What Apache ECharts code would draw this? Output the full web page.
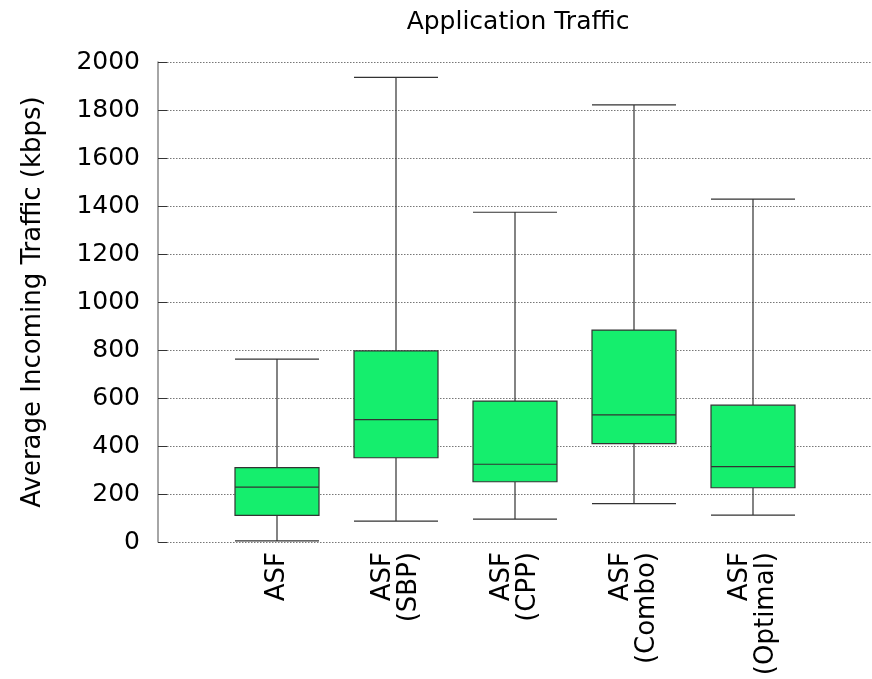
<!DOCTYPE html>
<html>
<head>
<meta charset="utf-8">
<script src="https://cdn.jsdelivr.net/npm/echarts@6/dist/echarts.min.js"></script>
<style>
  html, body { margin: 0; padding: 0; background: #fff; }
  #chart { width: 872px; height: 679px; }
</style>
</head>
<body>
<div id="chart"></div>
<script>
// Application traffic per scheme (kbps): whisker ends, quartiles and median
const categories = ['ASF', 'ASF\n(SBP)', 'ASF\n(CPP)', 'ASF\n(Combo)', 'ASF\n(Optimal)'];
const whiskerLow  = [5,   87,   95,   160,  112];
const quartile1   = [111, 351,  251,  410,  226];
const median      = [229, 510,  324,  530,  314];
const quartile3   = [310, 796,  587,  883,  570];
const whiskerHigh = [762, 1936, 1374, 1821, 1429];
const yTicks = { min: 0, max: 2000, step: 200 };

// Empty slots at both ends give the padding either side of the boxes
const axisCategories = [''].concat(categories, ['']);
const boxData = categories.map((c, i) => [
  i + 1, whiskerLow[i], quartile1[i], median[i], quartile3[i], whiskerHigh[i]
]);

const font = 'DejaVu Sans';
const fs = 25;
const chart = echarts.init(document.getElementById('chart'), null, { renderer: 'canvas' });
chart.setOption({
  backgroundColor: '#ffffff',
  animation: false,
  title: {
    text: 'Application Traffic',
    left: 513,
    top: 5,
    textAlign: 'center',
    textStyle: { fontFamily: font, fontSize: fs, fontWeight: 'normal', color: '#000' }
  },
  grid: { left: 158, top: 62, width: 720, height: 480, containLabel: false },
  xAxis: {
    type: 'category',
    data: axisCategories,
    boundaryGap: false,
    axisLine: { show: false },
    axisTick: { show: false },
    splitLine: { show: false },
    axisLabel: {
      rotate: 90,
      margin: 10,
      interval: 0,
      fontFamily: font,
      fontSize: 26,
      color: '#000',
      lineHeight: 26,
      align: 'right'
    }
  },
  yAxis: {
    type: 'value',
    min: yTicks.min,
    max: yTicks.max,
    interval: yTicks.step,
    name: 'Average Incoming Traffic (kbps)',
    nameLocation: 'middle',
    nameGap: 112,
    nameTextStyle: { fontFamily: font, fontSize: 26, color: '#000' },
    axisLine: { show: true, lineStyle: { color: '#888', width: 1.5 } },
    axisTick: { show: true, inside: true, length: 9, lineStyle: { color: '#333', width: 1 } },
    axisLabel: {
      margin: 18, fontFamily: font, fontSize: fs, color: '#000',
      formatter: v => String(v)
    },
    splitLine: { show: true, lineStyle: { color: '#777', width: 1, type: [1.5, 1.5] } }
  },
  series: [{
    type: 'boxplot',
    data: boxData,
    encode: { x: 0, y: [1, 2, 3, 4, 5] },
    boxWidth: [84, 84],
    itemStyle: { color: '#15ee6d', borderColor: '#333', borderWidth: 1.2 }
  }]
});
</script>
</body>
</html>
